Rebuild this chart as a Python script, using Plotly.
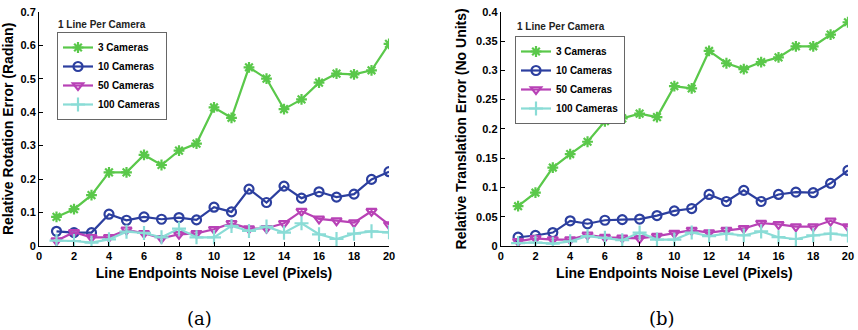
import plotly.graph_objects as go

noise = list(range(1, 21))

rot_3 = [0.087, 0.110, 0.152, 0.220, 0.220, 0.272, 0.242, 0.285, 0.306, 0.414, 0.383, 0.534, 0.500, 0.409, 0.438, 0.488, 0.515, 0.513, 0.525, 0.604]
rot_10 = [0.044, 0.040, 0.040, 0.095, 0.077, 0.087, 0.080, 0.085, 0.078, 0.116, 0.102, 0.170, 0.130, 0.179, 0.143, 0.162, 0.146, 0.155, 0.199, 0.222]
rot_50 = [0.016, 0.041, 0.026, 0.026, 0.048, 0.038, 0.023, 0.035, 0.038, 0.050, 0.068, 0.052, 0.053, 0.068, 0.104, 0.081, 0.076, 0.070, 0.104, 0.064]
rot_100 = [0.016, 0.015, 0.010, 0.020, 0.043, 0.039, 0.026, 0.052, 0.026, 0.026, 0.060, 0.045, 0.058, 0.040, 0.068, 0.035, 0.021, 0.037, 0.044, 0.041]

tr_3 = [0.068, 0.091, 0.134, 0.157, 0.178, 0.213, 0.218, 0.226, 0.220, 0.273, 0.269, 0.333, 0.312, 0.302, 0.314, 0.322, 0.341, 0.341, 0.361, 0.382]
tr_10 = [0.015, 0.018, 0.023, 0.043, 0.038, 0.044, 0.045, 0.046, 0.052, 0.060, 0.064, 0.088, 0.076, 0.095, 0.076, 0.088, 0.092, 0.091, 0.107, 0.129]
tr_50 = [0.008, 0.013, 0.011, 0.011, 0.019, 0.015, 0.014, 0.013, 0.017, 0.022, 0.027, 0.023, 0.027, 0.030, 0.039, 0.037, 0.033, 0.033, 0.043, 0.033]
tr_100 = [0.005, 0.006, 0.004, 0.008, 0.017, 0.014, 0.010, 0.023, 0.011, 0.011, 0.023, 0.017, 0.021, 0.018, 0.025, 0.015, 0.012, 0.018, 0.021, 0.018]

series_names = ["3 Cameras", "10 Cameras", "50 Cameras", "100 Cameras"]
colors = ["#5ac84a", "#2c3f9f", "#b842b6", "#8adcd6"]
symbols = ["asterisk-open", "circle-open", "triangle-down-open", "cross-thin-open"]
sizes = [9, 9, 9, 10]

x_ticks = list(range(0, 21, 2))
rot_ticks = [0, 0.1, 0.2, 0.3, 0.4, 0.5, 0.6, 0.7]
tr_ticks = [0, 0.05, 0.1, 0.15, 0.2, 0.25, 0.3, 0.35, 0.4]
tr_tick_text = ["0", "0.05", "0.1", "0.15", "0.2", "0.25", "0.3", "0.35", "0.4"]

FONT = "Arial, Liberation Sans, sans-serif"

fig = go.Figure()

panels = [
    ([rot_3, rot_10, rot_50, rot_100], "x", "y", "legend"),
    ([tr_3, tr_10, tr_50, tr_100], "x2", "y2", "legend2"),
]
for data, xa, ya, lg in panels:
    for name, vals, c, s, sz in zip(series_names, data, colors, symbols, sizes):
        fig.add_trace(go.Scatter(
            x=noise, y=vals, name=name, mode="lines+markers",
            xaxis=xa, yaxis=ya, legend=lg,
            line=dict(color=c, width=2.2),
            marker=dict(symbol=s, size=sz, color=c, line=dict(color=c, width=2.2)),
        ))

ydom = [0.2545, 0.9645]
axis_common = dict(
    showline=True, linecolor="black", linewidth=1, ticks="inside", ticklen=4,
    tickcolor="black", showgrid=False, zeroline=False, mirror=False, automargin=True,
    tickfont=dict(family=FONT, size=11, color="black", weight="bold"),
)
title_font = dict(family=FONT, size=14, weight="bold", color="black")
legend_common = dict(
    xanchor="left", yanchor="top",
    bordercolor="#666666", borderwidth=1, bgcolor="white",
    font=dict(family=FONT, size=10, color="black", weight="bold"),
    tracegroupgap=0, itemwidth=30,
)
fig.update_layout(
    width=858, height=330,
    margin=dict(l=0, r=0, t=0, b=0, autoexpand=False),
    paper_bgcolor="white", plot_bgcolor="white",
    font=dict(family=FONT, color="black"),
    xaxis=dict(domain=[0.04545, 0.4534], range=[0, 20], tickvals=x_ticks, anchor="y",
               title=dict(text="Line Endpoints Noise Level (Pixels)", standoff=6, font=title_font),
               **axis_common),
    yaxis=dict(domain=ydom, range=[0, 0.7], tickvals=rot_ticks, anchor="x",
               title=dict(text="Relative Rotation Error (Radian)", standoff=6, font=title_font),
               **axis_common),
    xaxis2=dict(domain=[0.5836, 0.9883], range=[0, 20], tickvals=x_ticks, anchor="y2",
                title=dict(text="Line Endpoints Noise Level (Pixels)", standoff=6, font=title_font),
                **axis_common),
    yaxis2=dict(domain=ydom, range=[0, 0.4], tickvals=tr_ticks, ticktext=tr_tick_text, anchor="x2",
                title=dict(text="Relative Translation Error (No Units)", standoff=6, font=title_font),
                **axis_common),
    legend=dict(x=57 / 858, y=(330 - 32) / 330, **legend_common),
    legend2=dict(x=515 / 858, y=(330 - 36) / 330, **legend_common),
    showlegend=True,
)

fig.add_annotation(text="1 Line Per Camera", xref="paper", yref="paper", x=56 / 858, y=(330 - 24) / 330,
                   xanchor="left", yanchor="middle", showarrow=False,
                   font=dict(family=FONT, size=10, color="#222222", weight="bold"))
fig.add_annotation(text="1 Line Per Camera", xref="paper", yref="paper", x=515 / 858, y=(330 - 27) / 330,
                   xanchor="left", yanchor="middle", showarrow=False,
                   font=dict(family=FONT, size=10, color="#222222", weight="bold"))
fig.add_annotation(text="(a)", xref="paper", yref="paper", x=199 / 858, y=(330 - 318) / 330,
                   xanchor="center", yanchor="middle", showarrow=False,
                   font=dict(family="DejaVu Serif", size=18, color="black"))
fig.add_annotation(text="(b)", xref="paper", yref="paper", x=662 / 858, y=(330 - 318) / 330,
                   xanchor="center", yanchor="middle", showarrow=False,
                   font=dict(family="DejaVu Serif", size=18, color="black"))

fig.write_html("out.html", config={"displayModeBar": False},
               post_script="document.body.style.margin='0';document.body.style.overflow='hidden';")
